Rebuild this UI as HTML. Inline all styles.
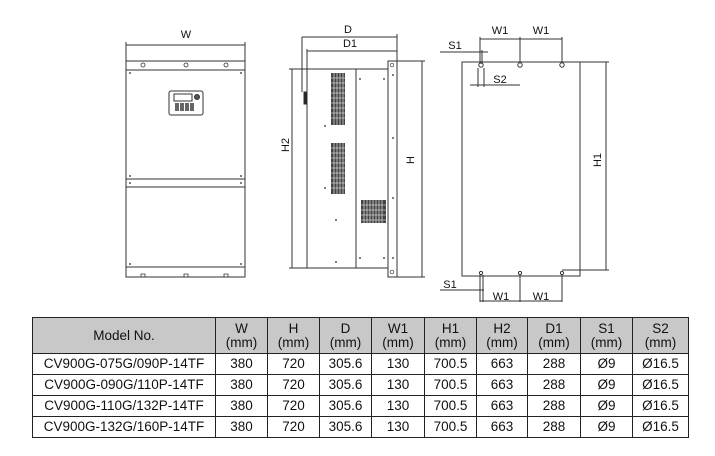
<!DOCTYPE html>
<html><head><meta charset="utf-8"><style>
html,body{margin:0;padding:0;background:#fff;}
body{width:715px;height:456px;position:relative;overflow:hidden;font-family:"Liberation Sans",Arial,sans-serif;}
svg{position:absolute;left:0;top:0;}
table{position:absolute;left:32px;top:317px;border-collapse:collapse;font-size:13.5px;color:#111;}
td{border:1px solid #222;text-align:center;padding:0;height:20px;line-height:14px;}
tr.h td{background:#c8c8c8;height:35px;}
</style></head><body>
<svg width="715" height="310" viewBox="0 0 715 310" font-family="Liberation Sans, Arial, sans-serif" fill="none" stroke="#333" stroke-width="1">
<rect x="126" y="61" width="119" height="216"/>
<line x1="126" y1="70" x2="245" y2="70"/>
<line x1="126" y1="179" x2="245" y2="179"/>
<line x1="126" y1="187" x2="245" y2="187"/>
<line x1="126" y1="267" x2="245" y2="267"/>
<g stroke-width="0.8"><circle cx="143" cy="65" r="2"/><circle cx="186" cy="65" r="2"/><circle cx="226" cy="65" r="2"/>
<path d="M141 277 v-3 h4 v3 M184 277 v-3 h4 v3 M224 277 v-3 h4 v3"/></g>
<g fill="#555" stroke="none"><circle cx="130" cy="73" r="1"/><circle cx="241" cy="73" r="1"/><circle cx="130" cy="176" r="1"/><circle cx="241" cy="176" r="1"/><circle cx="130" cy="183" r="1"/><circle cx="241" cy="183" r="1"/><circle cx="130" cy="264" r="1"/><circle cx="241" cy="264" r="1"/></g>
<rect x="169" y="91" width="34" height="24" rx="2"/>
<rect x="174" y="94" width="18" height="7"/>
<circle cx="197" cy="97" r="2.5" fill="#555"/>
<g fill="#666" stroke="none"><rect x="175" y="103" width="4" height="8"/><rect x="180" y="103" width="4" height="8"/><rect x="185" y="103" width="4" height="8"/><rect x="190" y="103" width="4" height="8"/></g>
<line x1="126" y1="45" x2="245" y2="45"/><line x1="126" y1="42" x2="126" y2="61"/><line x1="245" y1="42" x2="245" y2="61"/>
<rect x="307" y="69" width="49" height="199"/>
<rect x="356" y="69" width="32" height="199"/>
<rect x="388" y="61" width="9" height="216"/>
<rect x="304" y="92" width="3" height="12" fill="#222"/>
<g fill="#444" stroke="none">
<rect x="331" y="73" width="14" height="52"/><rect x="331" y="143" width="14" height="51"/><rect x="361" y="200" width="25" height="23"/></g>
<g stroke="#fff" stroke-width="0.6">
<path d="M331 78h14M331 83h14M331 88h14M331 93h14M331 98h14M331 103h14M331 108h14M331 113h14M331 118h14M331 148h14M331 153h14M331 158h14M331 163h14M331 168h14M331 173h14M331 178h14M331 183h14M331 188h14M361 205h25M361 210h25M361 215h25M361 220h25"/>
<path d="M334 73v52M337 73v52M340 73v52M343 73v52M334 143v51M337 143v51M340 143v51M343 143v51M364 200v23M367 200v23M370 200v23M373 200v23M376 200v23M379 200v23M382 200v23"/></g>
<g fill="#555" stroke="none"><circle cx="360" cy="79" r="1"/><circle cx="384" cy="79" r="1"/><circle cx="360" cy="258" r="1"/><circle cx="384" cy="258" r="1"/><circle cx="393" cy="75" r="1"/><circle cx="393" cy="138" r="1"/><circle cx="393" cy="198" r="1"/><circle cx="393" cy="258" r="1"/><circle cx="325" cy="126" r="1"/><circle cx="325" cy="188" r="1"/><circle cx="336" cy="220" r="1"/><circle cx="336" cy="262" r="1"/></g>
<circle cx="392" cy="65" r="1.8" stroke-width="0.7"/><circle cx="392" cy="272" r="1.8" stroke-width="0.7"/>
<line x1="302" y1="37" x2="397" y2="37"/><line x1="302" y1="37" x2="302" y2="92"/><line x1="397" y1="34" x2="397" y2="61"/>
<line x1="307" y1="51" x2="397" y2="51"/><line x1="307" y1="49" x2="307" y2="69"/>
<line x1="292" y1="69" x2="292" y2="268"/><line x1="289" y1="69" x2="307" y2="69"/><line x1="289" y1="268" x2="307" y2="268"/>
<line x1="422" y1="61" x2="422" y2="277"/><line x1="397" y1="61" x2="425" y2="61"/><line x1="397" y1="277" x2="425" y2="277"/>
<rect x="462" y="62" width="118" height="214"/>
<circle cx="481" cy="65" r="2.2"/><circle cx="520" cy="65" r="2.2"/><circle cx="562" cy="65" r="2.2"/>
<circle cx="481" cy="273" r="1.6"/><circle cx="520" cy="273" r="1.6"/><circle cx="562" cy="273" r="1.6"/>
<line x1="480" y1="39" x2="562" y2="39"/><line x1="480" y1="37" x2="480" y2="64"/><line x1="520" y1="37" x2="520" y2="63"/><line x1="562" y1="37" x2="562" y2="63"/>
<line x1="440" y1="52" x2="488" y2="52"/><line x1="482" y1="50" x2="482" y2="64"/>
<line x1="470" y1="85" x2="520" y2="85"/><line x1="478" y1="68" x2="478" y2="87"/><line x1="484" y1="68" x2="484" y2="87"/>
<line x1="606" y1="62" x2="606" y2="270"/><line x1="580" y1="62" x2="609" y2="62"/><line x1="562" y1="270" x2="609" y2="270"/>
<line x1="440" y1="290" x2="484" y2="290"/><line x1="480" y1="275" x2="480" y2="302"/><line x1="483" y1="275" x2="483" y2="302"/><line x1="520" y1="275" x2="520" y2="302"/><line x1="562" y1="275" x2="562" y2="302"/>
<line x1="480" y1="301" x2="562" y2="301"/>
<g fill="#111" stroke="none" font-size="11" text-anchor="middle">
<text x="186" y="38">W</text>
<text x="348" y="33">D</text><text x="350" y="47">D1</text>
<text x="500" y="34">W1</text><text x="541" y="34">W1</text>
<text x="455" y="49">S1</text><text x="500" y="83">S2</text>
<text x="450" y="288">S1</text><text x="501" y="300">W1</text><text x="541" y="300">W1</text>
<text transform="translate(289,145) rotate(-90)">H2</text>
<text transform="translate(414,160) rotate(-90)">H</text>
<text transform="translate(601,160) rotate(-90)">H1</text>
</g>
</svg>
<table>
<colgroup><col style="width:183px"><col style="width:52px"><col style="width:52px"><col style="width:52px"><col style="width:53px"><col style="width:52px"><col style="width:51px"><col style="width:53px"><col style="width:52px"><col style="width:56px"></colgroup>
<tr class="h"><td>Model No.</td><td>W<br>(mm)</td><td>H<br>(mm)</td><td>D<br>(mm)</td><td>W1<br>(mm)</td><td>H1<br>(mm)</td><td>H2<br>(mm)</td><td>D1<br>(mm)</td><td>S1<br>(mm)</td><td>S2<br>(mm)</td></tr>
<tr><td>CV900G-075G/090P-14TF</td><td>380</td><td>720</td><td>305.6</td><td>130</td><td>700.5</td><td>663</td><td>288</td><td>Ø9</td><td>Ø16.5</td></tr>
<tr><td>CV900G-090G/110P-14TF</td><td>380</td><td>720</td><td>305.6</td><td>130</td><td>700.5</td><td>663</td><td>288</td><td>Ø9</td><td>Ø16.5</td></tr>
<tr><td>CV900G-110G/132P-14TF</td><td>380</td><td>720</td><td>305.6</td><td>130</td><td>700.5</td><td>663</td><td>288</td><td>Ø9</td><td>Ø16.5</td></tr>
<tr><td>CV900G-132G/160P-14TF</td><td>380</td><td>720</td><td>305.6</td><td>130</td><td>700.5</td><td>663</td><td>288</td><td>Ø9</td><td>Ø16.5</td></tr>
</table>
</body></html>
